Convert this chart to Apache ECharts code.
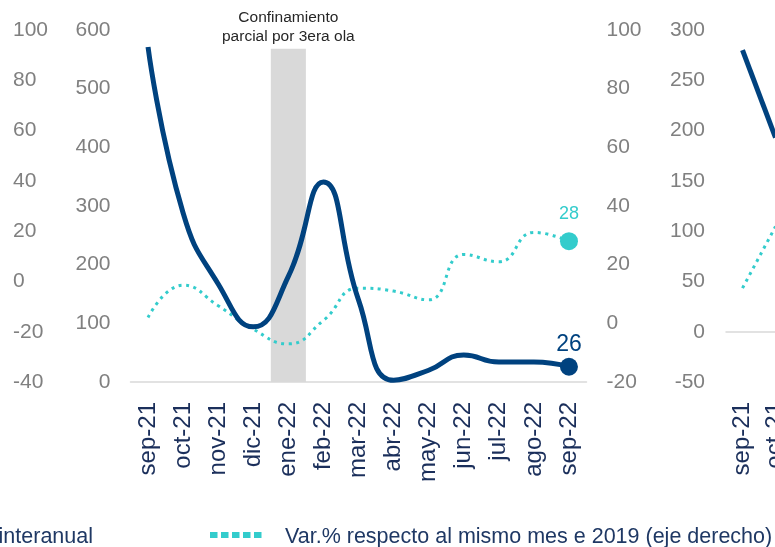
<!DOCTYPE html>
<html>
<head>
<meta charset="utf-8">
<script src="https://cdn.jsdelivr.net/npm/echarts@6/dist/echarts.min.js"></script>
<style>
    html, body {margin: 0; padding: 0; background: #fff;}
    #chart {width: 775px; height: 547px;}
</style>
</head>
<body>
<div id="chart"></div>
<script>
// categories
const months = ['sep-21', 'oct-21', 'nov-21', 'dic-21', 'ene-22', 'feb-22', 'mar-22',
    'abr-22', 'may-22', 'jun-22', 'jul-22', 'ago-22', 'sep-22'];

// panel 1
const interanual = [571, 288, 167, 94, 180, 341, 140, 3, 20, 46, 34, 34, 26];
const vs_2019 = [2, 13, 6, -2, -7, 1, 12, 11, 8, 23.5, 21, 31, 28];
const confinamiento = [null, null, null, null, 568, null, null, null, null, null, null, null, null];
const confinamiento_text = 'Confinamiento\nparcial por 3era ola';

// panel 2 (only the first months are visible)
const interanual_2 = [280, 193];
const vs_2019_2 = [12, 33];

// tick values of the axis cut off on the left
const left_ticks = {min: -40, max: 100, interval: 20};

const legend_1 = 'Var.% interanual';
const legend_2 = 'Var.% respecto al mismo mes e 2019 (eje derecho)';

const navy = '#00427f';
const teal = '#33cccc';
const gray_txt = '#808080';
const label_navy = '#1b2f5b';
const font = 'Liberation Sans, Arial, sans-serif';

function last_point(values, color, label_size, dist) {
    return values.map((v, i) => {
        if (i !== values.length - 1) return v;
        return {
            value: v, symbol: 'circle', symbolSize: 18,
            label: {show: true, position: 'top', distance: dist, color: color, fontSize: label_size, fontFamily: font}
        };
    });
}

let y_label = {color: gray_txt, fontSize: 21, fontFamily: font};
let x_label = {rotate: 90, margin: 20, interval: 0, color: label_navy, fontSize: 24, fontFamily: font};

let option = {
    animation: false,
    grid: [
        {left: 130.5, top: 30, width: 456, height: 352, outerBoundsMode: 'none'},
        {left: 726, top: 30, width: 429, height: 352, outerBoundsMode: 'none'}
    ],
    xAxis: [{
        type: 'category', data: months, gridIndex: 0,
        axisLine: {lineStyle: {color: '#d9d9d9', width: 1.5}},
        axisTick: {show: false},
        axisLabel: x_label
    }, {
        type: 'category', data: months, gridIndex: 1,
        axisLine: {show: false, onZero: false},
        axisTick: {show: false},
        axisLabel: x_label
    }, {
        type: 'category', data: months, gridIndex: 1,
        axisLine: {show: true, onZero: true, lineStyle: {color: '#d9d9d9', width: 1.5}},
        axisTick: {show: false}, axisLabel: {show: false}
    }],
    yAxis: [{
        type: 'value', gridIndex: 0, min: 0, max: 600, interval: 100,
        splitLine: {show: false}, axisLine: {show: false},
        axisLabel: Object.assign({margin: 20}, y_label)
    }, {
        type: 'value', gridIndex: 0, position: 'right', min: -20, max: 100, interval: 20,
        splitLine: {show: false}, axisLine: {show: false},
        axisLabel: Object.assign({margin: 20, align: 'left'}, y_label)
    }, {
        type: 'value', gridIndex: 0, position: 'left', offset: 117.5,
        min: left_ticks.min, max: left_ticks.max, interval: left_ticks.interval,
        splitLine: {show: false}, axisLine: {show: false},
        axisLabel: Object.assign({margin: 0, align: 'left'}, y_label)
    }, {
        type: 'value', gridIndex: 1, min: -50, max: 300, interval: 50,
        splitLine: {show: false}, axisLine: {show: false},
        axisLabel: Object.assign({margin: 21}, y_label)
    }, {
        type: 'value', gridIndex: 1, position: 'right', min: -20, max: 100, interval: 20,
        show: false
    }],
    series: [{
        name: 'confinamiento', type: 'bar', xAxisIndex: 0, yAxisIndex: 0,
        data: confinamiento, barWidth: '100%', z: 1,
        itemStyle: {color: '#d9d9d9'},
        label: {
            show: true, position: 'top', distance: 3, formatter: confinamiento_text,
            color: '#262626', fontSize: 15.5, lineHeight: 19, fontFamily: font
        }
    }, {
        name: legend_2, type: 'line', xAxisIndex: 0, yAxisIndex: 1, smooth: true,
        symbol: 'none', data: last_point(vs_2019, teal, 18, 9), z: 3,
        itemStyle: {color: teal},
        lineStyle: {color: teal, width: 3, type: [3, 4.5]}
    }, {
        name: legend_1, type: 'line', xAxisIndex: 0, yAxisIndex: 0, smooth: true,
        symbol: 'none', data: last_point(interanual, navy, 23, 2), z: 4,
        itemStyle: {color: navy},
        lineStyle: {color: navy, width: 5}
    }, {
        name: legend_2 + ' 2', type: 'line', xAxisIndex: 1, yAxisIndex: 4,
        symbol: 'none', data: vs_2019_2, z: 3,
        lineStyle: {color: teal, width: 3, type: [3, 4.5]}
    }, {
        name: legend_1 + ' 2', type: 'line', xAxisIndex: 1, yAxisIndex: 3,
        symbol: 'none', data: interanual_2, z: 4,
        lineStyle: {color: navy, width: 5}
    }],
    graphic: [{
        type: 'text', x: 93, y: 537,
        style: {text: legend_1, textAlign: 'right', textVerticalAlign: 'middle',
            fill: '#1f3864', fontSize: 21.5, fontFamily: font}
    }, {
        type: 'line', shape: {x1: 210, y1: 535, x2: 264, y2: 535},
        style: {stroke: teal, lineWidth: 6, lineDash: [7.5, 3.5]}
    }, {
        type: 'text', x: 285, y: 537,
        style: {text: legend_2, textAlign: 'left', textVerticalAlign: 'middle',
            fill: '#1f3864', fontSize: 21.5, fontFamily: font}
    }]
};

let my_chart = echarts.init(document.getElementById('chart'));
my_chart.setOption(option);
</script>
</body>
</html>
